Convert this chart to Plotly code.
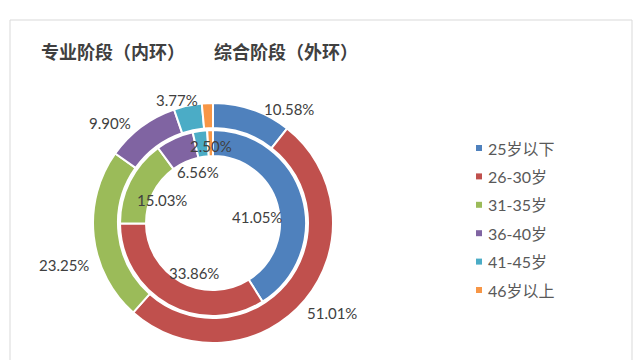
import plotly.graph_objects as go

# ---- data ----
categories = ["25岁以下", "26-30岁", "31-35岁", "36-40岁", "41-45岁", "46岁以上"]
inner_values = [41.05, 33.86, 15.03, 6.56, 2.50, 1.00]   # 专业阶段（内环）
outer_values = [10.58, 51.01, 23.25, 9.90, 3.77, 1.49]   # 综合阶段（外环）
colors = ["#4F81BD", "#C0504D", "#9BBB59", "#8064A2", "#4BACC6", "#F79646"]
title_left = "专业阶段（内环）"
title_right = "综合阶段（外环）"

W, H = 640, 360
def px(x):
    return x / W
def py(y):
    return 1 - y / H

# geometry (pixels)
cx, cy = 213, 223
r_outer, r_outer_in = 120, 95
r_inner, r_inner_in = 93, 67

fig = go.Figure()
fig.add_trace(go.Pie(
    labels=categories, values=outer_values, sort=False, direction="clockwise",
    rotation=0, hole=r_outer_in / r_outer, textinfo="none", showlegend=False,
    marker=dict(colors=colors, line=dict(color="white", width=2)),
    domain=dict(x=[px(cx - r_outer), px(cx + r_outer)], y=[py(cy + r_outer), py(cy - r_outer)]),
))
fig.add_trace(go.Pie(
    labels=categories, values=inner_values, sort=False, direction="clockwise",
    rotation=0, hole=r_inner_in / r_inner, textinfo="none", showlegend=False,
    marker=dict(colors=colors, line=dict(color="white", width=2)),
    domain=dict(x=[px(cx - r_inner), px(cx + r_inner)], y=[py(cy + r_inner), py(cy - r_inner)]),
))

label_font = dict(family="Lato, Noto Sans CJK SC, sans-serif", size=15, color="#404040")

# label anchor positions (pixels), Excel-style data-label layout
inner_label_pos = [(257, 217), (194, 273), (162, 200), (198, 172), (211, 146), None]
outer_label_pos = [(289, 109), (332, 313), (64, 265), (110, 123), (177, 100), None]

annotations = []
for vals, poss in ((inner_values, inner_label_pos), (outer_values, outer_label_pos)):
    for v, p in zip(vals, poss):
        if p is None:
            continue
        annotations.append(dict(x=px(p[0]), y=py(p[1]), xref="paper", yref="paper",
                                 text=f"{v:.2f}%", showarrow=False, font=label_font,
                                 xanchor="center", yanchor="middle"))

# title (two parts)
title_font = dict(family="Noto Sans CJK SC", size=18, color="#404040")
annotations.append(dict(x=px(39), y=py(51), xref="paper", yref="paper", text=f"<b>{title_left}</b>",
                        showarrow=False, xanchor="left", yanchor="middle", font=title_font))
annotations.append(dict(x=px(212), y=py(51), xref="paper", yref="paper", text=f"<b>{title_right}</b>",
                        showarrow=False, xanchor="left", yanchor="middle", font=title_font))

# legend (manual, to match Excel spacing)
shapes = []
leg_x, leg_y0, leg_dy = 479, 148, 28.4
for i, (c, col) in enumerate(zip(categories, colors)):
    y = leg_y0 + i * leg_dy
    shapes.append(dict(type="rect", xref="paper", yref="paper",
                       x0=px(leg_x - 3), x1=px(leg_x + 3), y0=py(y + 3), y1=py(y - 3),
                       fillcolor=col, line=dict(width=0)))
    annotations.append(dict(x=px(leg_x + 7), y=py(y), xref="paper", yref="paper", text=c,
                            showarrow=False, xanchor="left", yanchor="middle",
                            font=dict(family="Lato, Noto Sans CJK SC, sans-serif", size=16, color="#595959")))

# chart border
shapes.append(dict(type="rect", xref="paper", yref="paper", x0=px(10), x1=px(632), y0=py(375), y1=py(20),
                   line=dict(color="#D9D9D9", width=1), fillcolor="rgba(0,0,0,0)", layer="below"))

fig.update_layout(width=W, height=H, margin=dict(l=0, r=0, t=0, b=0),
                  paper_bgcolor="white", plot_bgcolor="white",
                  annotations=annotations, shapes=shapes, showlegend=False)
fig.write_html("out.html")
